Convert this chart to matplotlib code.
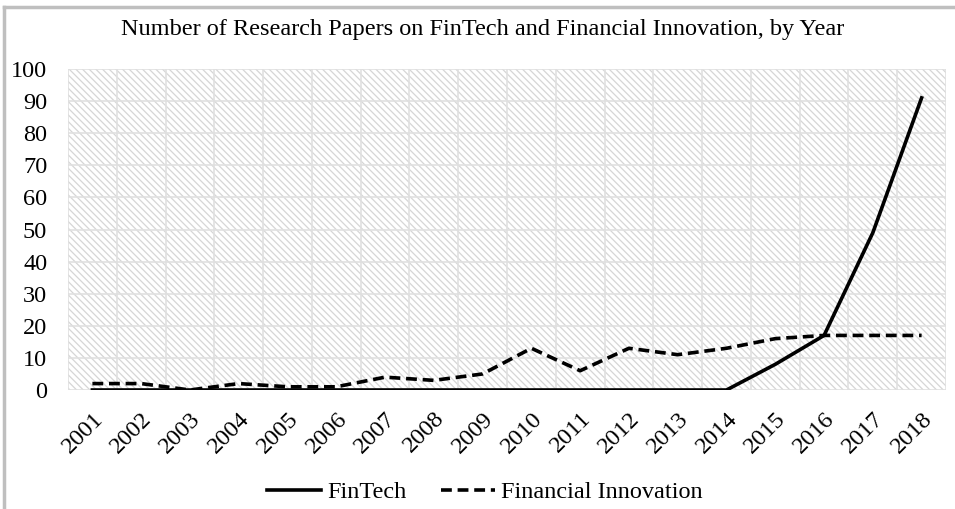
import matplotlib
matplotlib.use("Agg")
import matplotlib.pyplot as plt
from matplotlib.patches import Rectangle
from matplotlib.lines import Line2D

years = ["2001", "2002", "2003", "2004", "2005", "2006", "2007", "2008", "2009",
         "2010", "2011", "2012", "2013", "2014", "2015", "2016", "2017", "2018"]
fintech = [0, 0, 0, 0, 0, 0, 0, 0, 0, 0, 0, 0, 0, 0, 8, 17, 49, 91]
fin_innov = [2, 2, 0, 2, 1, 1, 4, 3, 5, 13, 6, 13, 11, 13, 16, 17, 17, 17]
yticks = list(range(0, 101, 10))
title = "Number of Research Papers on FinTech and Financial Innovation, by Year"

plt.rcParams['font.family'] = ['Liberation Serif', 'DejaVu Serif']
plt.rcParams['hatch.linewidth'] = 0.9

fig = plt.figure(figsize=(9.55, 5.09), dpi=100)
ax = fig.add_axes([68/955, 1-390/509, (946-68)/955, (390-69)/509])

# frame lines of the figure (top and left)
fig.add_artist(Line2D([4/955, 4/955], [0, 1-7/509], color='#bfbfbf', lw=2.5, transform=fig.transFigure))
fig.add_artist(Line2D([4/955, 1], [1-7/509, 1-7/509], color='#bfbfbf', lw=2.5, transform=fig.transFigure))

n = len(years)
x = list(range(n))
ax.set_xlim(-0.5, n-0.5)
ax.set_ylim(0, 100)

# hatched background
ax.add_patch(Rectangle((0, 0), 1, 1, transform=ax.transAxes, facecolor='white',
                       edgecolor='#d6d6d6', hatch='\\\\\\\\\\', lw=0, zorder=0))
ax.patch.set_visible(False)

for yv in yticks:
    ax.axhline(yv, color='#e0e0e0', lw=1.2, zorder=1)
for k in range(n+1):
    ax.axvline(k-0.5, color='#e0e0e0', lw=1.2, zorder=1)

for s in ax.spines.values():
    s.set_visible(False)

l1, = ax.plot(x, fintech, color='black', lw=2.6, zorder=3, label='FinTech')
l2, = ax.plot(x, fin_innov, color='black', lw=2.6, ls=(0, (3, 1.6)), zorder=3,
              label='Financial Innovation')

fs = 17.5
ax.set_yticks(yticks)
ax.set_yticklabels([str(v) for v in yticks], fontsize=fs)
ax.set_xticks(x)
ax.set_xticklabels(years, fontsize=fs, rotation=45, ha='right', rotation_mode='anchor')
ax.tick_params(axis='both', length=0)
ax.tick_params(axis='y', pad=15)
ax.tick_params(axis='x', pad=13)

fig.text(483/955, 1-30/509, title, ha='center', va='center', fontsize=fs)

fig.legend(handles=[l1, l2], loc='center', bbox_to_anchor=(485/955, 1-492/509),
           ncol=2, frameon=False, fontsize=fs, handlelength=2.2, handletextpad=0.25,
           columnspacing=1.45, borderpad=0)

fig.savefig("out.png", dpi=100)
